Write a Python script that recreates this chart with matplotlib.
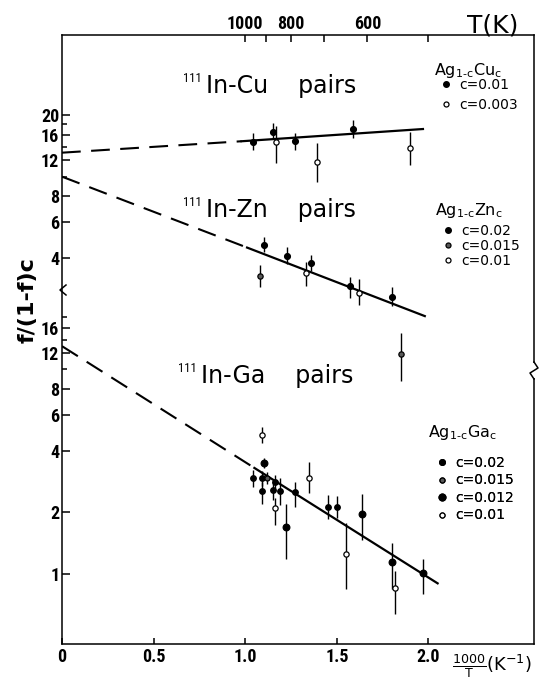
import matplotlib.pyplot as plt
from matplotlib.lines import Line2D
from matplotlib.patches import Rectangle
from matplotlib.ticker import NullFormatter
from matplotlib import font_manager
import numpy as np

plt.rcParams['font.family'] = ['DejaVu Sans']
plt.rcParams['mathtext.default'] = 'regular'

# ---- data: x = 1000/T (1/K), y = f/(1-f)c ----
# 111In-Cu pairs
cu_x_01 = [1.04, 1.15, 1.27, 1.59]
cu_y_01 = [14.8, 16.5, 14.9, 17.1]
cu_lo_01 = [13.5, 15.5, 13.5, 15.5]
cu_hi_01 = [16.4, 18.3, 16.4, 18.9]
cu_x_003 = [1.17, 1.39, 1.90]
cu_y_003 = [14.8, 11.8, 13.8]
cu_lo_003 = [11.7, 9.4, 11.4]
cu_hi_003 = [17.7, 14.6, 16.5]
cu_fit_x = [0.0, 0.98, 1.97]
cu_fit_y = [13.1, 14.9, 17.1]

# 111In-Zn pairs
zn_x_02 = [1.10, 1.23, 1.36, 1.57, 1.80]
zn_y_02 = [4.63, 4.09, 3.78, 2.92, 2.58]
zn_lo_02 = [4.28, 3.74, 3.46, 2.55, 2.33]
zn_hi_02 = [5.07, 4.53, 4.14, 3.23, 2.88]
zn_x_015 = [1.08, 1.85]
zn_y_015 = [3.27, 1.36]
zn_lo_015 = [2.88, 1.00]
zn_hi_015 = [3.70, 1.72]
zn_x_01 = [1.33, 1.62]
zn_y_01 = [3.38, 2.70]
zn_lo_01 = [2.92, 2.35]
zn_hi_01 = [3.82, 3.16]
zn_fit_x = [0.0, 1.01, 1.98]
zn_fit_y = [10.0, 4.5, 2.08]

# 111In-Ga pairs
ga_x_02 = [1.04, 1.09, 1.09, 1.15, 1.16, 1.19, 1.27, 1.45, 1.50]
ga_y_02 = [2.94, 2.94, 2.55, 2.58, 2.83, 2.55, 2.52, 2.12, 2.13]
ga_lo_02 = [2.67, 2.70, 2.20, 2.30, 2.60, 2.18, 2.13, 1.85, 1.88]
ga_hi_02 = [3.23, 3.20, 2.83, 2.85, 3.05, 2.95, 2.83, 2.43, 2.41]
ga_x_015 = [1.12]
ga_y_015 = [2.94]
ga_lo_015 = [2.75]
ga_hi_015 = [3.15]
ga_x_012 = [1.10, 1.22, 1.64, 1.80, 1.97]
ga_y_012 = [3.48, 1.70, 1.97, 1.14, 1.01]
ga_lo_012 = [3.30, 1.19, 1.47, 0.84, 0.80]
ga_hi_012 = [3.70, 2.19, 2.45, 1.41, 1.19]
ga_x_01 = [1.09, 1.16, 1.35, 1.55, 1.82]
ga_y_01 = [4.78, 2.10, 2.96, 1.25, 0.85]
ga_lo_01 = [4.37, 1.74, 2.50, 0.84, 0.64]
ga_hi_01 = [5.23, 2.35, 3.52, 1.78, 1.03]
ga_fit_x = [0.0, 1.05, 2.05]
ga_fit_y = [13.0, 3.30, 0.90]

# axis ticks
t_ticks = [1000, 900, 800, 700, 600, 500]
t_labels = ['1000', '', '800', '', '600', '']
x_ticks = [0, 0.5, 1.0, 1.5, 2.0]
x_labels = ['0', '0.5', '1.0', '1.5', '2.0']
top_yticks = [4, 6, 8, 12, 16, 20]
top_yminor = [10, 14, 18]
ga_yticks = [1, 2, 4, 6, 8, 12, 16]
ga_yminor = [10, 14, 18]

# narrow font for numbers, if one is there
names = set(f.name for f in font_manager.fontManager.ttflist)
narrow = None
for cand in ['Liberation Sans Narrow', 'DejaVu Sans Condensed', 'Roboto Condensed',
             'Open Sans Condensed', 'Noto Sans Condensed']:
    if cand in names:
        narrow = cand
        break
if narrow is None:
    numfont = dict(family='Roboto', size=12.5, weight='bold')
else:
    numfont = dict(family=narrow, size=13, weight='bold')

W, H = 542, 679
def fx(p):
    return p / W
def fy(p):
    return 1 - p / H

fig = plt.figure(figsize=(W / 100, H / 100), dpi=100)
box = [fx(62), fy(644), fx(534) - fx(62), fy(35) - fy(644)]
ax = fig.add_axes(box)     # Ga scale, draws the frame
ax2 = fig.add_axes(box)    # Cu / Zn scale
ax2.patch.set_visible(False)
for s in ax2.spines.values():
    s.set_visible(False)
for s in ax.spines.values():
    s.set_linewidth(1.1)

xmax = 2.576
ax.set_xlim(0, xmax)
ax2.set_xlim(0, xmax)
ax.set_yscale('log')
ax2.set_yscale('log')
ax.set_ylim(0.4546, 432)
ax2.set_ylim(0.0518, 49.3)

ax.set_yticks(ga_yticks)
ax.set_yticklabels([str(v) for v in ga_yticks])
ax.set_yticks(ga_yminor, minor=True)
ax.yaxis.set_minor_formatter(NullFormatter())
ax.set_xticks(x_ticks)
ax.set_xticklabels(x_labels)
ax.tick_params(which='both', direction='in', top=False, right=False, width=1.1)
ax.tick_params(axis='y', which='major', length=6, pad=2)
ax.tick_params(axis='y', which='minor', length=3.5)
ax.tick_params(axis='x', length=4.5, pad=3)

ax2.set_yticks(top_yticks)
ax2.set_yticklabels([str(v) for v in top_yticks])
ax2.set_yticks(top_yminor, minor=True)
ax2.yaxis.set_minor_formatter(NullFormatter())
ax2.xaxis.tick_top()
ax2.set_xticks([1000 / t for t in t_ticks])
ax2.set_xticklabels(t_labels)
ax2.tick_params(which='both', direction='in', bottom=False, right=False, width=1.1)
ax2.tick_params(axis='y', which='major', length=6, pad=2)
ax2.tick_params(axis='y', which='minor', length=3.5)
ax2.tick_params(axis='x', length=5, pad=1.5)

for lab in (ax.get_xticklabels() + ax.get_yticklabels() +
            ax2.get_xticklabels() + ax2.get_yticklabels()):
    lab.set_fontfamily(numfont['family'])
    lab.set_fontsize(numfont['size'])
    lab.set_fontweight(numfont['weight'])

dash = (0, (9, 5))

def fitline(a, xs, ys):
    a.plot(xs[:2], ys[:2], color='k', lw=1.5, ls=dash)
    a.plot(xs[1:], ys[1:], color='k', lw=1.6)

def pts(a, xs, ys, lo, hi, kind, ms=4.2):
    xs = np.array(xs); ys = np.array(ys)
    err = [ys - np.array(lo), np.array(hi) - ys]
    if kind == 'filled':
        mfc, mec = 'k', 'k'
    elif kind == 'half':
        mfc, mec = '0.35', 'k'
    else:
        mfc, mec = 'white', 'k'
    a.errorbar(xs, ys, yerr=err, fmt='o', ms=ms, mfc=mfc, mec=mec, mew=0.9,
               ecolor='k', elinewidth=1.0, capsize=0, zorder=3)

fitline(ax2, cu_fit_x, cu_fit_y)
pts(ax2, cu_x_01, cu_y_01, cu_lo_01, cu_hi_01, 'filled')
pts(ax2, cu_x_003, cu_y_003, cu_lo_003, cu_hi_003, 'open', 3.8)

fitline(ax2, zn_fit_x, zn_fit_y)
pts(ax2, zn_x_02, zn_y_02, zn_lo_02, zn_hi_02, 'filled')
pts(ax2, zn_x_015, zn_y_015, zn_lo_015, zn_hi_015, 'half', 3.8)
pts(ax2, zn_x_01, zn_y_01, zn_lo_01, zn_hi_01, 'open', 3.8)

fitline(ax, ga_fit_x, ga_fit_y)
pts(ax, ga_x_02, ga_y_02, ga_lo_02, ga_hi_02, 'filled', 4.0)
pts(ax, ga_x_015, ga_y_015, ga_lo_015, ga_hi_015, 'half', 3.6)
pts(ax, ga_x_012, ga_y_012, ga_lo_012, ga_hi_012, 'filled', 4.8)
pts(ax, ga_x_01, ga_y_01, ga_lo_01, ga_hi_01, 'open', 3.8)

# panel titles
for (x0, y0, name) in [(183, 86, 'In-Cu'), (183, 210, 'In-Zn'), (178, 376, 'In-Ga')]:
    fig.text(fx(x0), fy(y0 - 8), '111', fontsize=9, fontfamily=numfont['family'],
             ha='left', va='center')
    fig.text(fx(x0 + 23), fy(y0), name + '    pairs', fontsize=17,
             ha='left', va='center')

# legends (title written separately, rows as a frameless legend)
def hf(ms=4.0):
    return Line2D([], [], ls='none', marker='o', ms=ms, mfc='k', mec='k')
def ho():
    return Line2D([], [], ls='none', marker='o', ms=3.6, mfc='white', mec='k', mew=0.9)
def hh():
    return Line2D([], [], ls='none', marker='o', ms=3.6, mfc='0.35', mec='k', mew=0.9)

legs = [
    ([hf(), ho()], ['c=0.01', 'c=0.003'], r'Ag$_{1‐c}$Cu$_c$', (434, 70), (440, 78), 0.45),
    ([hf(), hh(), ho()], ['c=0.02', 'c=0.015', 'c=0.01'], r'Ag$_{1‐c}$Zn$_c$',
     (435, 210), (442, 224), 0.06),
    ([hf(), hh(), hf(4.8), ho()], ['c=0.02', 'c=0.015', 'c=0.012', 'c=0.01'],
     r'Ag$_{1‐c}$Ga$_c$', (428, 433), (436, 456), 0.25),
]
for handles, labels, title, (tx, ty), (lx, ly), sp in legs:
    fig.text(fx(tx), fy(ty), title, fontsize=11.5, ha='left', va='center')
    lg = ax2.legend(handles, labels, loc='upper left',
                    bbox_to_anchor=(fx(lx), fy(ly)), bbox_transform=fig.transFigure,
                    frameon=False, handlelength=0.8, handletextpad=0.6,
                    borderaxespad=0, borderpad=0, labelspacing=sp, fontsize=10)
    ax2.add_artist(lg)

# axis labels
fig.text(fx(28), fy(300), 'f/(1-f)c', rotation=90, fontsize=16,
         fontweight='bold', ha='center', va='center')
fig.text(fx(518), fy(25), 'T(K)', fontsize=18, ha='right', va='center')
fig.text(fx(452), fy(666), r'$\frac{1000}{T}$(K$^{-1}$)', fontsize=13,
         ha='left', va='center')

# axis break marks
fig.add_artist(Line2D([fx(66), fx(60), fx(66)], [fy(285), fy(290), fy(295)],
                      color='k', lw=1.1))
fig.add_artist(Rectangle((fx(531), fy(378)), fx(8), 15 / H, transform=fig.transFigure,
                         facecolor='white', edgecolor='none', zorder=4))
fig.add_artist(Line2D([fx(534), fx(538), fx(530), fx(534)],
                      [fy(362), fy(368), fy(373), fy(379)], color='k', lw=1.1, zorder=5))

fig.savefig('out.png', dpi=100)
